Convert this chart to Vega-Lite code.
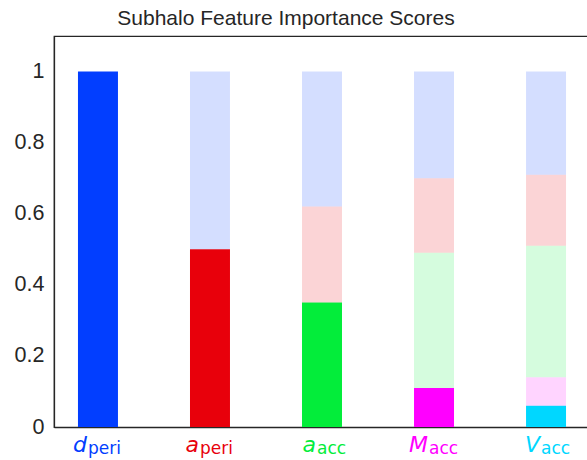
{
  "$schema": "https://vega.github.io/schema/vega-lite/v6.json",
  "autosize": {"type": "none"},
  "padding": {"left": 54, "top": 36, "right": 0, "bottom": 33},
  "width": 536,
  "height": 391,
  "background": "white",
  "config": {"view": {"stroke": "#262626", "strokeWidth": 1.25}, "font": "Liberation Sans"},
  "title": {"text": "Subhalo Feature Importance Scores", "fontSize": 21, "font": "Liberation Sans", "fontWeight": "normal", "color": "#262626", "dx": -36, "offset": 7},
  "datasets": {
    "bars": [
      {"bar": "d_peri", "source": "d_peri", "rank": 0, "value": 1.0},
      {"bar": "a_peri", "source": "a_peri", "rank": 1, "value": 0.50},
      {"bar": "a_peri", "source": "d_peri", "rank": 0, "value": 0.50},
      {"bar": "a_acc", "source": "a_acc", "rank": 2, "value": 0.35},
      {"bar": "a_acc", "source": "a_peri", "rank": 1, "value": 0.27},
      {"bar": "a_acc", "source": "d_peri", "rank": 0, "value": 0.38},
      {"bar": "M_acc", "source": "M_acc", "rank": 3, "value": 0.11},
      {"bar": "M_acc", "source": "a_acc", "rank": 2, "value": 0.38},
      {"bar": "M_acc", "source": "a_peri", "rank": 1, "value": 0.21},
      {"bar": "M_acc", "source": "d_peri", "rank": 0, "value": 0.30},
      {"bar": "V_acc", "source": "V_acc", "rank": 4, "value": 0.06},
      {"bar": "V_acc", "source": "M_acc", "rank": 3, "value": 0.08},
      {"bar": "V_acc", "source": "a_acc", "rank": 2, "value": 0.37},
      {"bar": "V_acc", "source": "a_peri", "rank": 1, "value": 0.20},
      {"bar": "V_acc", "source": "d_peri", "rank": 0, "value": 0.29}
    ],
    "labels": [
      {"bar": "d_peri", "letter": "d", "sub": "peri"},
      {"bar": "a_peri", "letter": "a", "sub": "peri"},
      {"bar": "a_acc", "letter": "a", "sub": "acc"},
      {"bar": "M_acc", "letter": "M", "sub": "acc"},
      {"bar": "V_acc", "letter": "V", "sub": "acc"}
    ]
  },
  "encoding": {
    "x": {"field": "bar", "type": "nominal", "sort": ["d_peri", "a_peri", "a_acc", "M_acc", "V_acc"],
      "scale": {"paddingInner": 0.643, "paddingOuter": 0.214},
      "axis": {"title": null, "labels": false, "ticks": false, "domainColor": "#262626", "domainWidth": 1.25}},
    "color": {"field": "bar", "type": "nominal",
      "scale": {"domain": ["d_peri", "a_peri", "a_acc", "M_acc", "V_acc"], "range": ["#023eff", "#e8000b", "#03ed3a", "#ff00ff", "#00d7ff"]},
      "legend": null}
  },
  "layer": [
    {
      "data": {"name": "bars"},
      "mark": {"type": "bar"},
      "encoding": {
        "y": {"field": "value", "type": "quantitative", "stack": "zero",
          "scale": {"domain": [0, 1.1], "nice": false, "zero": true},
          "axis": {"title": null, "values": [0, 0.2, 0.4, 0.6, 0.8, 1], "format": "~g", "grid": false, "ticks": false, "tickSize": 0,
            "labelFontSize": 21.5, "labelColor": "#262626", "labelPadding": 10, "labelFont": "Liberation Sans",
            "domainColor": "#262626", "domainWidth": 1.25}},
        "color": {"field": "source", "type": "nominal", "legend": null},
        "opacity": {"condition": {"test": "datum.source === datum.bar", "value": 1}, "value": 0.17},
        "order": {"field": "rank", "type": "quantitative", "sort": "descending"}
      }
    },
    {
      "data": {"name": "labels"},
      "transform": [{"filter": "datum.sub === 'peri'"}],
      "mark": {"type": "text", "font": "DejaVu Sans", "fontStyle": "italic", "fontSize": 22, "align": "right", "baseline": "alphabetic", "dx": -11, "dy": 25},
      "encoding": {"y": {"datum": 0, "type": "quantitative"}, "text": {"field": "letter"}}
    },
    {
      "data": {"name": "labels"},
      "transform": [{"filter": "datum.sub === 'peri'"}],
      "mark": {"type": "text", "font": "DejaVu Sans", "fontSize": 17, "align": "left", "baseline": "alphabetic", "dx": -10, "dy": 27},
      "encoding": {"y": {"datum": 0, "type": "quantitative"}, "text": {"field": "sub"}}
    },
    {
      "data": {"name": "labels"},
      "transform": [{"filter": "datum.sub === 'acc'"}],
      "mark": {"type": "text", "font": "DejaVu Sans", "fontStyle": "italic", "fontSize": 22, "align": "right", "baseline": "alphabetic", "dx": -6, "dy": 25},
      "encoding": {"y": {"datum": 0, "type": "quantitative"}, "text": {"field": "letter"}}
    },
    {
      "data": {"name": "labels"},
      "transform": [{"filter": "datum.sub === 'acc'"}],
      "mark": {"type": "text", "font": "DejaVu Sans", "fontSize": 17, "align": "left", "baseline": "alphabetic", "dx": -5, "dy": 27},
      "encoding": {"y": {"datum": 0, "type": "quantitative"}, "text": {"field": "sub"}}
    }
  ]
}
